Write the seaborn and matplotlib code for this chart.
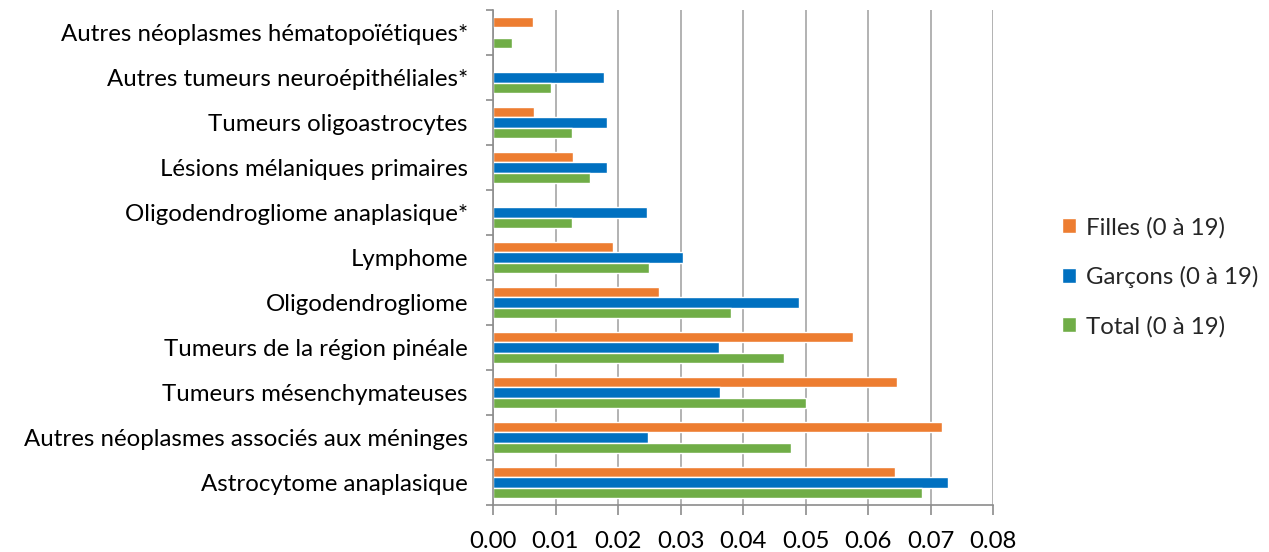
import numpy as np
import pandas as pd
import matplotlib
matplotlib.use("Agg")
import matplotlib.pyplot as plt
import seaborn as sns

categories = [
    "Autres néoplasmes hématopoïétiques*",
    "Autres tumeurs neuroépithéliales*",
    "Tumeurs oligoastrocytes",
    "Lésions mélaniques primaires",
    "Oligodendrogliome anaplasique*",
    "Lymphome",
    "Oligodendrogliome",
    "Tumeurs de la région pinéale",
    "Tumeurs mésenchymateuses",
    "Autres néoplasmes associés aux méninges",
    "Astrocytome anaplasique",
]
series_names = ["Filles (0 à 19)", "Garçons (0 à 19)", "Total (0 à 19)"]
filles = [0.0064, np.nan, 0.0066, 0.0128, np.nan, 0.0192, 0.0265, 0.0576, 0.0646, 0.0718, 0.0643]
garcons = [np.nan, 0.0178, 0.0182, 0.0182, 0.0246, 0.0304, 0.0490, 0.0362, 0.0363, 0.0248, 0.0728]
total = [0.0031, 0.0092, 0.0126, 0.0155, 0.0127, 0.0250, 0.0381, 0.0466, 0.0501, 0.0476, 0.0686]
x_ticks = [0.00, 0.01, 0.02, 0.03, 0.04, 0.05, 0.06, 0.07, 0.08]
colors = ["#ED7D31", "#0070C0", "#70AD47"]

rows = []
for name, vals in zip(series_names, [filles, garcons, total]):
    for c, v in zip(categories, vals):
        rows.append({"cat": c, "serie": name, "val": v})
df = pd.DataFrame(rows)

sns.set_theme(style="white")
plt.rcParams["font.family"] = ["Lato", "DejaVu Sans"]
FS = 17.3

fig = plt.figure(figsize=(12.69, 5.52), dpi=100)
ax = fig.add_axes([493 / 1269, 1 - 505 / 552, 500 / 1269, 495 / 552])

sns.barplot(data=df, y="cat", x="val", hue="serie", order=categories,
            hue_order=series_names, palette=colors, orient="h",
            width=0.68, saturation=1, ax=ax, legend=True)

ax.set_xlim(0, 0.08)
ax.set_ylim(len(categories) - 0.5, -0.5)
ax.set_xticks(x_ticks)
ax.set_xticklabels([f"{t:.2f}" for t in x_ticks], fontsize=FS)
ax.set_xlabel("")
ax.set_ylabel("")
ax.tick_params(axis="y", which="major", length=0, labelsize=FS, pad=18, colors="black")
ax.set_yticks(np.arange(-0.5, len(categories), 1), minor=True)
ax.tick_params(axis="y", which="minor", length=5, width=1.2, color="#8C8C8C", left=True)
ax.tick_params(axis="x", which="major", length=7, width=1.2, color="#8C8C8C", bottom=True,
               direction="out", pad=12, labelcolor="black")
ax.grid(axis="x", color="#A6A6A6", linewidth=1.2)
ax.set_axisbelow(True)
for s in ["top", "right"]:
    ax.spines[s].set_visible(False)
for s in ["left", "bottom"]:
    ax.spines[s].set_color("#8C8C8C")
    ax.spines[s].set_linewidth(1.2)

leg = ax.legend(loc="center left", bbox_to_anchor=(1062 / 1269, 1 - 277 / 552),
                bbox_transform=fig.transFigure, frameon=False, fontsize=FS,
                borderaxespad=0, borderpad=0,
                handlelength=0.6, handleheight=0.6, handletextpad=0.4, labelspacing=1.15)

fig.savefig("out.png", dpi=100)
